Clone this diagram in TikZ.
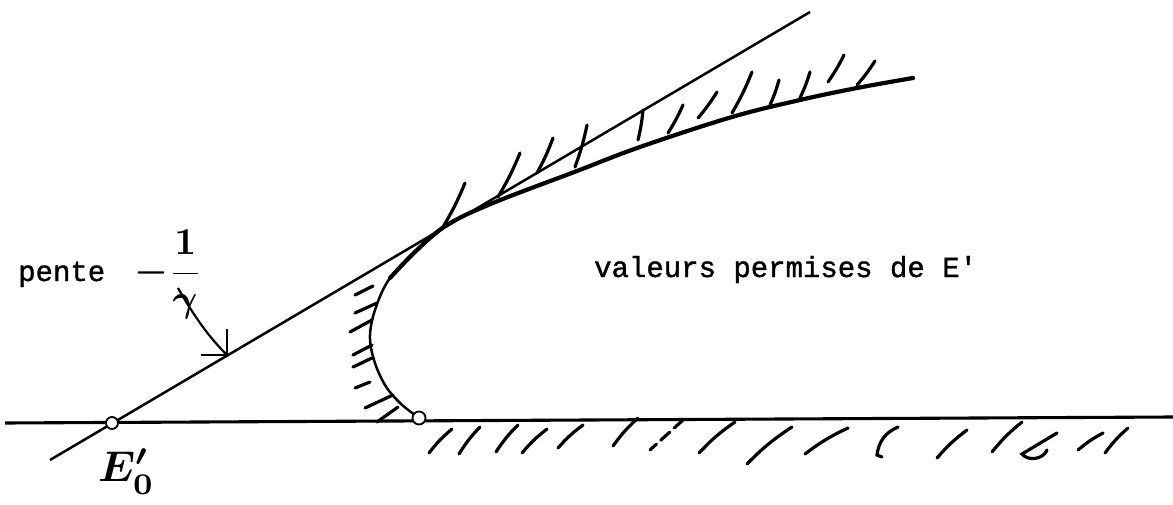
\documentclass[tikz,border=0pt]{standalone}
\usepackage{fontspec}
\newfontfamily\tw[FakeBold=1.2]{Liberation Mono}
\usetikzlibrary{arrows.meta}
\begin{document}
\begin{tikzpicture}[x=1pt,y=-1pt,
  axisline/.style={line width=3.1pt},
  tangent/.style={line width=2.5pt},
  thincurve/.style={line width=2.5pt,line cap=round},
  thickcurve/.style={line width=4.2pt,line cap=round},
  hatch/.style={line width=3.2pt,line cap=round},
  dotnode/.style={circle,draw,fill=white,line width=1.8pt,inner sep=0pt,minimum size=12pt},
  typed/.style={font=\tw\fontsize{29}{34}\selectfont,inner sep=0pt,anchor=base west},
  hand/.style={inner sep=0pt,anchor=base west}]
\useasboundingbox (0,0) rectangle (1173,505);

% axis and tangent
\coordinate (hl) at (5,423);
\coordinate (hr) at (1173,417);
\draw[axisline] (hl) -- (hr);
\coordinate (tl) at (50,460);
\coordinate (tr) at (810,12);
\draw[tangent] (tl) -- (tr);

% boundary curve
\draw[thincurve] plot[smooth,tension=0.6] coordinates {(419,418) (400,403) (385,385) (374,360) (370,335) (376,307) (390,278) (417,250) (447,225)};
\draw[thickcurve] plot[smooth,tension=0.6] coordinates {(390,278) (417,250) (447,225) (493,203) (577,171) (640,147) (732,117) (800,100) (857,88) (913,78)};

% upper hatches
\foreach \a/\b/\c/\d in {465/183/443/227, 520/153/498/197, 553/138/537/173, 587/125/575/167,
  643/110/638/140, 683/105/668/133, 717/92/698/118, 752/72/732/113, 779/80/770/105,
  810/72/800/98, 844/55/828/82, 875/61/857/85}
  \draw[hatch] (\a,\b) to[bend left=4] (\c,\d);

% left hatches
\foreach \a/\b/\c/\d in {355/295/373/286, 355/313/377/303, 350/332/372/320, 353/355/372/345,
  353/367/372/358, 355/388/370/382, 365/408/393/395, 377/422/398/407}
  \draw[hatch] (\a,\b) -- (\c,\d);

% lower hatches
\foreach \a/\b/\c/\d in {452/429/429/453, 480/427/459/454, 518/425/496/452, 547/429/522/453,
  583/425/558/448, 638/418/613/446, 735/422/699/453, 792/427/747/464, 848/428/805/454,
  967/430/937/458, 1022/422/992/452, 1103/433/1078/450, 1128/428/1105/453}
  \draw[hatch] (\a,\b) to[bend right=6] (\c,\d);
\draw[hatch,dash pattern=on 12pt off 6pt] (683,420) -- (650,450);
\draw[hatch] (898,427) to[bend right=30] (877,455) -- (882,457);
\draw[hatch] (1057,433) -- (1022,454) to[bend right=60] (1047,450);

% points
\node[dotnode] (e0dot) at (112,423) {};
\node[dotnode,minimum size=13pt] (vdot) at (419,418) {};

% texts
\node[typed] (pente) at (18,281) {pente};
\node[typed] (val) at (594,277) {valeurs permises de E\char"27};
\node[hand] (slope) at (134,283) {\scalebox{3.8}{\boldmath$\displaystyle-\frac{1}{\gamma}$}};
\node[hand] (e0) at (98,481) {\scalebox{4.3}{\boldmath$E'_0$}};

% arrow to tangent line
\coordinate (astart) at (178,288);
\coordinate (atip) at (228,356);
\draw[line width=2.2pt,-{Straight Barb[length=18pt,width=36pt]}] (astart) .. controls (195,318) and (210,338) .. (atip);
\end{tikzpicture}
\end{document}
